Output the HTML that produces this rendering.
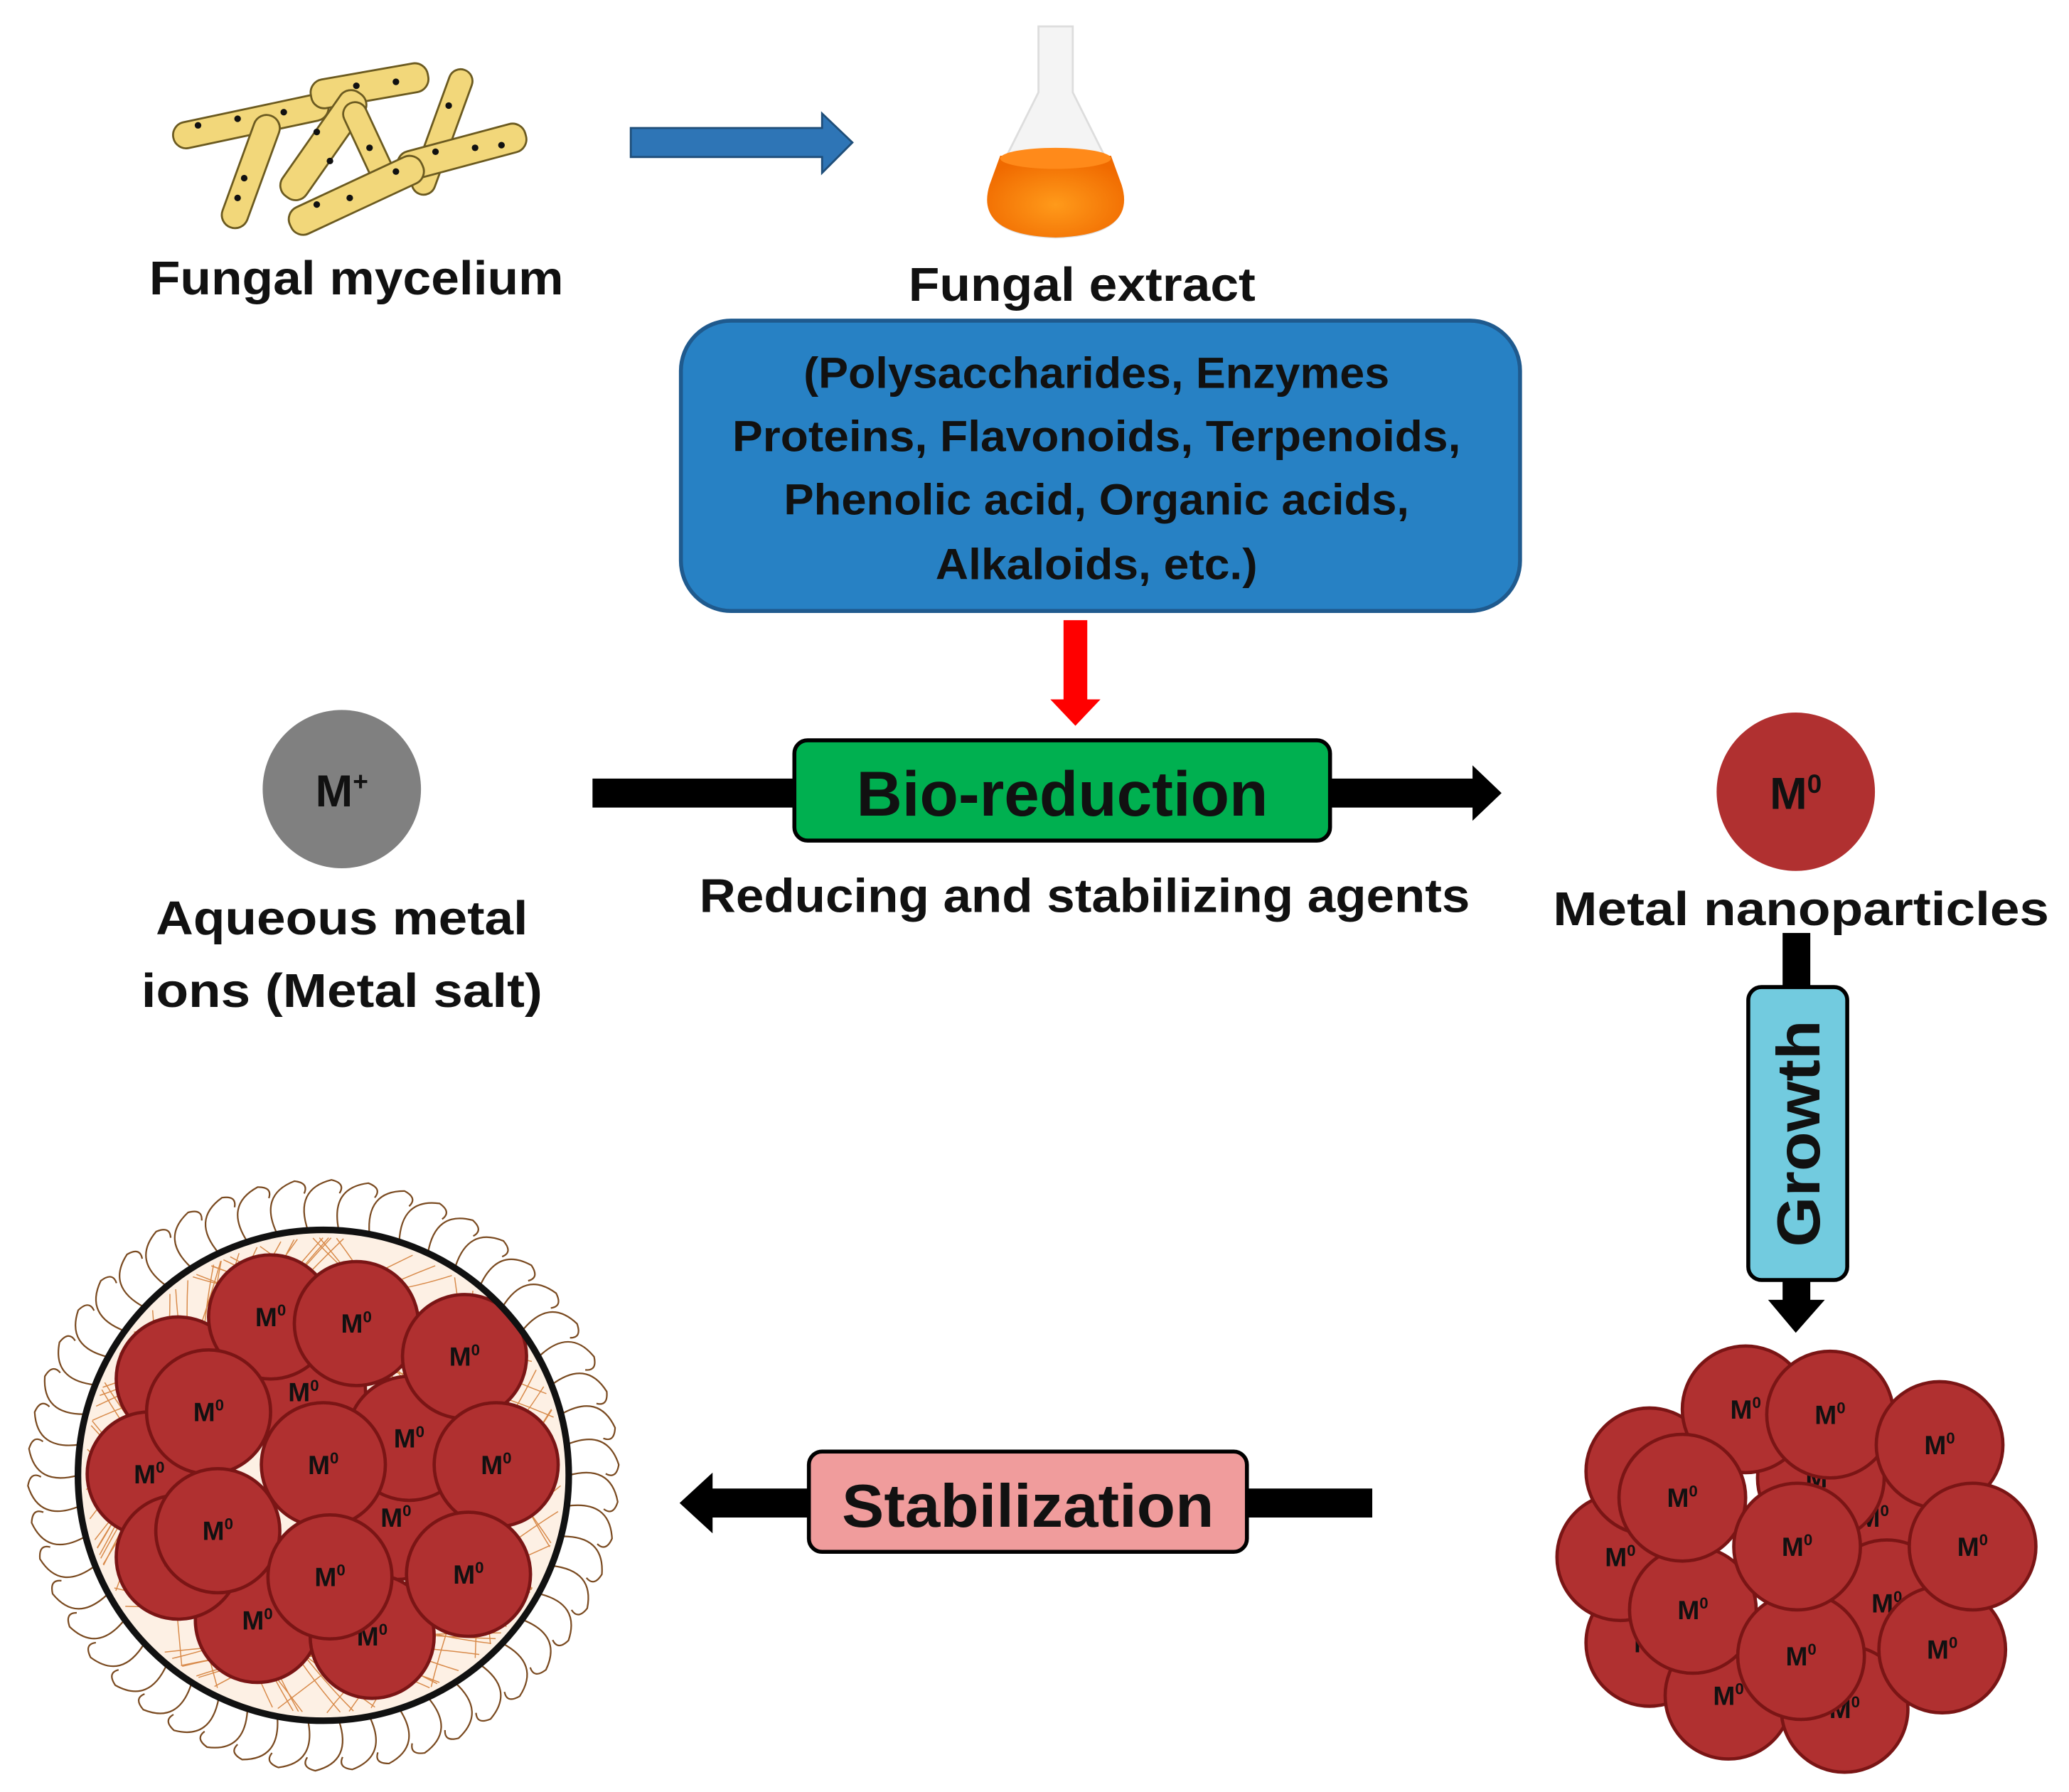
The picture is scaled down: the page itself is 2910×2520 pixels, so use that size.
<!DOCTYPE html>
<html><head><meta charset="utf-8"><style>
html,body{margin:0;padding:0;background:#fff}
svg{display:block}
text{font-family:"Liberation Sans",sans-serif;font-weight:bold}
</style></head><body>
<svg id="s" width="2910" height="2520" viewBox="0 0 1568 1358" xmlns="http://www.w3.org/2000/svg">
<defs>
<radialGradient id="fl" cx="50%" cy="60%" r="60%"><stop offset="0" stop-color="#ff9a1a"/><stop offset="1" stop-color="#f06a00"/></radialGradient>
</defs>
<!-- mycelium -->
<g stroke="#6b5a20" stroke-width="1.5" fill="#f2d77a">
<g transform="translate(190,92) rotate(-12)"><rect x="-60" y="-10" width="120" height="20" rx="10"/></g>
<g transform="translate(280,65) rotate(-10)"><rect x="-45" y="-11" width="90" height="22" rx="10"/></g>
<g transform="translate(245,110) rotate(-55)"><rect x="-48" y="-11" width="96" height="22" rx="10"/></g>
<g transform="translate(190,130) rotate(-70)"><rect x="-45" y="-10" width="90" height="20" rx="10"/></g>
<g transform="translate(280,110) rotate(65)"><rect x="-35" y="-9" width="70" height="18" rx="9"/></g>
<g transform="translate(335,100) rotate(-70)"><rect x="-50" y="-9" width="100" height="18" rx="9"/></g>
<g transform="translate(350,115) rotate(-15)"><rect x="-50" y="-11" width="100" height="22" rx="10"/></g>
<g transform="translate(270,148) rotate(-25)"><rect x="-55" y="-11" width="110" height="22" rx="10"/></g>
</g>
<g fill="#111">
<circle cx="150" cy="95" r="2.5"/><circle cx="180" cy="90" r="2.5"/><circle cx="215" cy="85" r="2.5"/><circle cx="270" cy="65" r="2.5"/><circle cx="300" cy="62" r="2.5"/><circle cx="240" cy="100" r="2.5"/><circle cx="250" cy="122" r="2.5"/><circle cx="185" cy="135" r="2.5"/><circle cx="180" cy="150" r="2.5"/><circle cx="280" cy="112" r="2.5"/><circle cx="340" cy="80" r="2.5"/><circle cx="330" cy="115" r="2.5"/><circle cx="360" cy="112" r="2.5"/><circle cx="380" cy="110" r="2.5"/><circle cx="240" cy="155" r="2.5"/><circle cx="265" cy="150" r="2.5"/><circle cx="300" cy="130" r="2.5"/>
</g>
<text x="270" y="223" font-size="36" text-anchor="middle" textLength="314" lengthAdjust="spacingAndGlyphs" fill="#111">Fungal mycelium</text>
<!-- blue arrow -->
<polygon points="478,97 623,97 623,86 646,108 623,131 623,119 478,119" fill="#2e75b6" stroke="#1f4e79" stroke-width="1.5"/>
<!-- flask -->
<path d="M787,20 L813,20 L813,70 L848,140 Q862,178 800,180 Q738,178 752,140 L787,70 Z" fill="#f4f4f4" stroke="#ddd" stroke-width="1.5"/>
<path d="M758,118 L842,118 L850,140 Q862,178 800,180 Q738,178 750,140 Z" fill="url(#fl)"/>
<ellipse cx="800" cy="120" rx="42" ry="8" fill="#ff8a1a"/>
<text x="820" y="228" font-size="36" text-anchor="middle" textLength="263" lengthAdjust="spacingAndGlyphs" fill="#111">Fungal extract</text>
<!-- blue box -->
<rect x="516" y="243" width="636" height="220" rx="38" fill="#2781c4" stroke="#1f5a8e" stroke-width="3"/>
<g font-size="33" text-anchor="middle" fill="#111">
<text x="831" y="294" textLength="444" lengthAdjust="spacingAndGlyphs">(Polysaccharides, Enzymes</text>
<text x="831" y="342" textLength="552" lengthAdjust="spacingAndGlyphs">Proteins, Flavonoids, Terpenoids,</text>
<text x="831" y="390" textLength="474" lengthAdjust="spacingAndGlyphs">Phenolic acid, Organic acids,</text>
<text x="831" y="439" textLength="244" lengthAdjust="spacingAndGlyphs">Alkaloids, etc.)</text>
</g>
<!-- red arrow -->
<polygon points="806,470 824,470 824,530 834,530 815,550 796,530 806,530" fill="#ff0000"/>
<!-- M+ -->
<circle cx="259" cy="598" r="60" fill="#808080"/>
<text x="259" y="611" font-size="34" text-anchor="middle" fill="#111">M<tspan dy="-12" font-size="20">+</tspan></text>
<text x="259" y="708" font-size="36" text-anchor="middle" textLength="282" lengthAdjust="spacingAndGlyphs" fill="#111">Aqueous metal</text>
<text x="259" y="763" font-size="36" text-anchor="middle" textLength="304" lengthAdjust="spacingAndGlyphs" fill="#111">ions (Metal salt)</text>
<!-- black arrow -->
<polygon points="449,590 1116,590 1116,580 1138,601 1116,622 1116,612 449,612" fill="#000"/>
<rect x="602" y="561" width="406" height="76" rx="10" fill="#00b050" stroke="#000" stroke-width="3"/>
<text x="805" y="618" font-size="48" text-anchor="middle" textLength="312" lengthAdjust="spacingAndGlyphs" fill="#111">Bio-reduction</text>
<text x="822" y="691" font-size="36" text-anchor="middle" textLength="584" lengthAdjust="spacingAndGlyphs" fill="#111">Reducing and stabilizing agents</text>
<!-- M0 -->
<circle cx="1361" cy="600" r="60" fill="#b03030"/>
<text x="1361" y="613" font-size="34" text-anchor="middle" fill="#111">M<tspan dy="-12" font-size="20">0</tspan></text>
<text x="1365" y="701" font-size="36" text-anchor="middle" textLength="376" lengthAdjust="spacingAndGlyphs" fill="#111">Metal nanoparticles</text>
<!-- growth -->
<rect x="1351" y="707" width="21" height="280" fill="#000"/>
<polygon points="1340,985 1383,985 1361,1010" fill="#000"/>
<rect x="1325" y="748" width="75" height="222" rx="10" fill="#72cbdf" stroke="#000" stroke-width="3"/>
<text transform="translate(1379,859) rotate(-90)" font-size="46" text-anchor="middle" textLength="172" lengthAdjust="spacingAndGlyphs" fill="#111">Growth</text>
<!-- stabilization -->
<polygon points="1040,1128 540,1128 540,1116 515,1139 540,1162 540,1150 1040,1150" fill="#000"/>
<rect x="613" y="1100" width="332" height="76" rx="10" fill="#f09c9c" stroke="#000" stroke-width="3"/>
<text x="779" y="1157" font-size="46" text-anchor="middle" textLength="282" lengthAdjust="spacingAndGlyphs" fill="#111">Stabilization</text>
<g id="rc"></g>
<g id="hairs" fill="none" stroke="#7a4a20" stroke-width="1.2"></g>
<circle cx="245" cy="1118" r="186" fill="#fdf0e4" stroke="none"/>
<g id="mesh" stroke="#d88a4a" stroke-width="0.8" fill="none"></g>
<g id="lc"></g>
<circle cx="245" cy="1118" r="186" fill="none" stroke="#111" stroke-width="5"/>
</svg>
<script>
var NS="http://www.w3.org/2000/svg";
function circ(g,x,y,r){var c=document.createElementNS(NS,"circle");c.setAttribute("cx",x);c.setAttribute("cy",y);c.setAttribute("r",r);c.setAttribute("fill","#b03030");c.setAttribute("stroke","#7a1515");c.setAttribute("stroke-width","2.5");g.appendChild(c);
var t=document.createElementNS(NS,"text");t.setAttribute("x",x);t.setAttribute("y",y+7);t.setAttribute("font-size","20");t.setAttribute("text-anchor","middle");t.setAttribute("fill","#111");t.innerHTML='M<tspan dy="-8" font-size="12">0</tspan>';g.appendChild(t);}
var R=[[1420,1150],[1380,1120],[1430,1215],[1250,1245],[1228,1180],[1310,1285],[1398,1295],[1250,1115],[1323,1068],[1387,1072],[1470,1095],[1472,1250],[1495,1172],[1283,1220],[1275,1135],[1365,1255],[1362,1172]];
var rc=document.getElementById("rc");R.forEach(function(p){circ(rc,p[0],p[1],48)});
var L=[[230,1055],[300,1150],[195,1228],[282,1240],[135,1045],[113,1117],[135,1180],[205,998],[310,1090],[270,1003],[352,1028],[376,1110],[355,1193],[158,1070],[165,1160],[245,1110],[250,1195]];
var lc=document.getElementById("lc");L.forEach(function(p){circ(lc,p[0],p[1],47)});
var h=document.getElementById("hairs"),cx=245,cy=1118;
function P(r,a){return (cx+r*Math.cos(a)).toFixed(1)+","+(cy+r*Math.sin(a)).toFixed(1)}
for(var i=0;i<50;i++){var a=i/50*2*Math.PI;var p=document.createElementNS(NS,"path");
p.setAttribute("d","M"+P(186,a)+" Q"+P(218,a-0.04)+" "+P(224,a+0.09)+" Q"+P(222,a+0.14)+" "+P(214,a+0.12));h.appendChild(p);}
var m=document.getElementById("mesh"),seed=7;
function rnd(){seed=(seed*9301+49297)%233280;return seed/233280;}
for(var i=0;i<60;i++){var a1=rnd()*6.283,a2=a1+1+rnd()*2;var p=document.createElementNS(NS,"path");
p.setAttribute("d","M"+P(180,a1)+" Q"+P(120,(a1+a2)/2)+" "+P(180,a2));m.appendChild(p);}
</script>
</body></html>
